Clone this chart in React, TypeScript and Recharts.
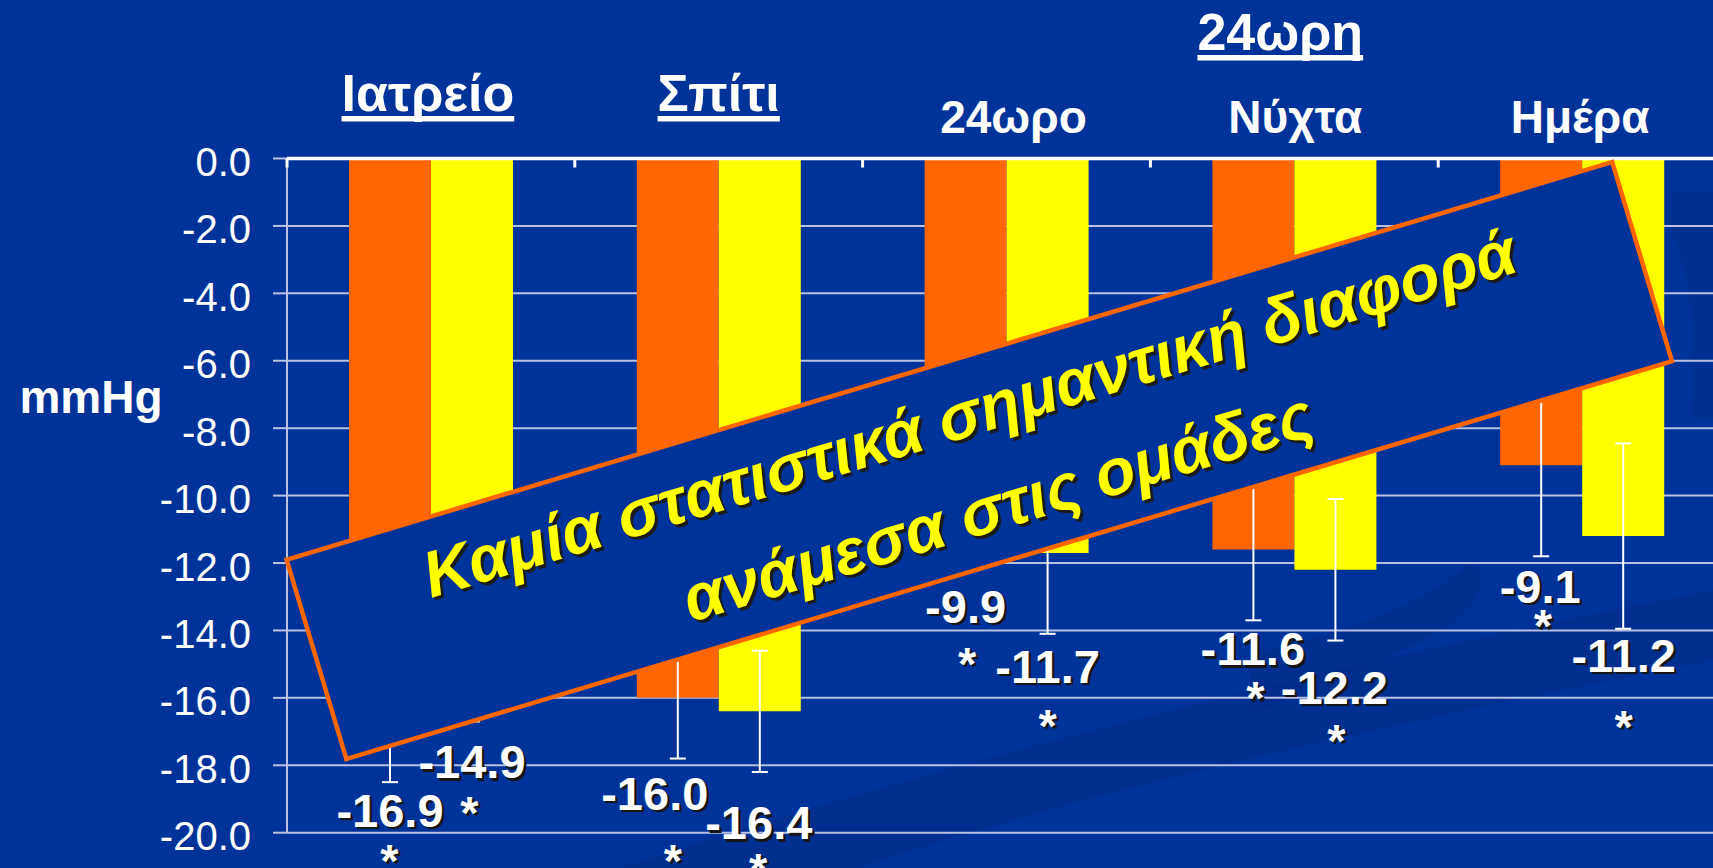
import React from "react";
import { BarChart, Bar, XAxis, YAxis, CartesianGrid, ErrorBar, LabelList } from "recharts";

// ---------- data ----------
const categories = ["Ιατρείο", "Σπίτι", "24ωρο", "Νύχτα", "Ημέρα"];
const groupTitle = "24ωρη";
const groupMembers = ["24ωρο", "Νύχτα", "Ημέρα"];
const orangeValues = [-16.9, -16.0, -9.9, -11.6, -9.1];
const yellowValues = [-14.9, -16.4, -11.7, -12.2, -11.2];
const orangeErrors = [1.6, 1.8, 2.0, 2.1, 2.7];
const yellowErrors = [1.8, 1.8, 2.4, 2.1, 2.75];
const orangeSignificance = ["*", "*", "*", "*", "*"];
const yellowSignificance = ["*", "*", "*", "*", "*"];
const yTicks = [0, -2, -4, -6, -8, -10, -12, -14, -16, -18, -20];
const yAxisTitle = "mmHg";
const bannerLines = ["Καμία στατιστικά σημαντική διαφορά", "ανάμεσα στις ομάδες"];

const data = categories.map((c, i) => ({
  category: c,
  orange: orangeValues[i],
  yellow: yellowValues[i],
  orangeErr: orangeErrors[i],
  yellowErr: yellowErrors[i],
}));

// ---------- layout / style ----------
const W = 1713;
const H = 868;
const PLOT_LEFT = 287;
const PLOT_TOP = 158.5;
const PLOT_BOTTOM = 832.7;
const BAND = 287.8;
const CHART_W = PLOT_LEFT + BAND * categories.length;
const FONT = "'Liberation Sans', Arial, Helvetica, sans-serif";
const BG = "#003399";
const ORANGE = "#FF6600";
const YELLOW = "#FFFF00";
const GRID = "#b9c1e3";

// label placement relative to the bar end (pixels)
const ORANGE_LABEL = [
  { dx: 0, dy: 98.5, sdx: -0.5, sdy: 50 },
  { dx: -23, dy: 112, sdx: -5, sdy: 67 },
  { dx: 0, dy: 130.5, sdx: 1.5, sdy: 57 },
  { dx: -0.6, dy: 115.5, sdx: 2, sdy: 49 },
  { dx: -1, dy: 137.4, sdx: 1.7, sdy: 39.5 },
];
const YELLOW_LABEL = [
  { dx: 0, dy: 117.5, sdx: -2.7, sdy: 50.7 },
  { dx: -1, dy: 128, sdx: -1.6, sdy: 46.4 },
  { dx: 0, dy: 130, sdx: 0, sdy: 59 },
  { dx: -1, dy: 134, sdx: 1, sdy: 53 },
  { dx: 0.5, dy: 135.6, sdx: 0.5, sdy: 71.3 },
];
const TITLE_DX = [-3, 0, 7, 1, -2];

let measureCtx: CanvasRenderingContext2D | null = null;
function measure(text: string, font: string): number {
  if (!measureCtx) measureCtx = document.createElement("canvas").getContext("2d");
  if (!measureCtx) return text.length * 25;
  measureCtx.font = font;
  return measureCtx.measureText(text).width;
}

function ShadowText(props: any) {
  const {
    x, y, size, children, bold = true, italic = false, anchor = "middle",
    fill = "#ffffff", shadow = "#151515", sdx = 2.5, sdy = 2.5,
  } = props;
  const common = {
    fontFamily: FONT,
    fontSize: size,
    fontWeight: bold ? 700 : 400,
    fontStyle: italic ? "italic" : "normal",
    textAnchor: anchor,
  } as any;
  return (
    <g>
      <text x={x + sdx} y={y + sdy} fill={shadow} {...common}>{children}</text>
      <text x={x} y={y} fill={fill} {...common}>{children}</text>
    </g>
  );
}

const makeLabel = (layout: any[], sig: string[]) => (props: any) => {
  const { x, y, width, height, value, index } = props;
  const yy = Number(y);
  const end = Math.max(yy, yy + Number(height));
  const cx = Number(x) + Number(width) / 2;
  const L = layout[index];
  const base = end + L.dy;
  return (
    <g>
      <ShadowText x={cx + L.dx} y={base} size={47}>{Number(value).toFixed(1)}</ShadowText>
      {sig[index] ? (
        <ShadowText x={cx + L.sdx} y={base + L.sdy} size={47}>{sig[index]}</ShadowText>
      ) : null}
    </g>
  );
};

function CategoryTick(props: any) {
  const { x, payload, index } = props;
  const cx = Number(x);
  const name = String(payload.value);
  const left = cx - BAND / 2;
  const isSub = groupMembers.includes(name);
  const tx = cx + (TITLE_DX[index] ?? 0);
  let title: React.ReactNode;
  if (isSub) {
    title = (
      <text x={tx} y={133} fill="#fff" fontFamily={FONT} fontSize={46} fontWeight={700} textAnchor="middle">
        {name}
      </text>
    );
  } else {
    const font = `700 52px ${FONT}`;
    const w = measure(name, font);
    title = (
      <g>
        <text x={tx} y={111} fill="#fff" fontFamily={FONT} fontSize={52} fontWeight={700} textAnchor="middle">
          {name}
        </text>
        <rect x={tx - w / 2} y={116} width={w} height={5.5} fill="#fff" />
      </g>
    );
  }
  return (
    <g>
      <line x1={left} y1={PLOT_TOP} x2={left} y2={PLOT_TOP + 9} stroke="#fff" strokeWidth={3} />
      {title}
    </g>
  );
}

function YTick(props: any) {
  const { y, payload } = props;
  return (
    <text x={PLOT_LEFT - 36} y={Number(y) + 17.5} fill="#fff" fontFamily={FONT} fontSize={40} textAnchor="end">
      {Number(payload.value).toFixed(1)}
    </text>
  );
}

function Overlay() {
  const groupCx = PLOT_LEFT + BAND * 3.5 - 14;
  const gFont = `700 52px ${FONT}`;
  const gw = measure(groupTitle, gFont);
  const cx = 979.3;
  const cy = 460.5;
  const angle = -16.7;
  return (
    <svg width={W} height={H} style={{ position: "absolute", left: 0, top: 0 }}>
      <text x={91} y={413} fill="#fff" fontFamily={FONT} fontSize={46} fontWeight={700} textAnchor="middle">
        {yAxisTitle}
      </text>
      <text x={groupCx} y={50} fill="#fff" fontFamily={FONT} fontSize={52} fontWeight={700} textAnchor="middle">
        {groupTitle}
      </text>
      <rect x={groupCx - gw / 2} y={55} width={gw} height={5.5} fill="#fff" />
      <g transform={`translate(${cx},${cy}) rotate(${angle})`}>
        <rect x={-692} y={-104} width={1384} height={208} fill={BG} stroke={ORANGE} strokeWidth={4.5} />
        <ShadowText x={4} y={-26} size={65} italic fill={YELLOW} shadow="#1a1a1a" sdx={2} sdy={3.7}>
          {bannerLines[0]}
        </ShadowText>
        <ShadowText x={4} y={72} size={65} italic fill={YELLOW} shadow="#1a1a1a" sdx={2} sdy={3.7}>
          {bannerLines[1]}
        </ShadowText>
      </g>
    </svg>
  );
}

function Background() {
  return (
    <svg width={W} height={H} style={{ position: "absolute", left: 0, top: 0 }}>
      <path d="M 620 868 C 950 760, 1350 660, 1713 590 L 1713 660 C 1400 720, 1050 800, 860 868 Z" fill="#002a85" opacity={0.45} />
      <path d="M 1250 655 C 1350 630, 1440 600, 1470 560 C 1500 585, 1470 625, 1380 660 C 1330 680, 1290 700, 1250 715 Z" fill="#002a85" opacity={0.45} />
      <path d="M 1655 190 C 1690 260, 1700 330, 1690 420 L 1713 420 L 1713 190 Z" fill="#002a85" opacity={0.35} />
    </svg>
  );
}

export default function App() {
  return (
    <div
      style={{
        position: "fixed",
        left: 0,
        top: 0,
        width: W,
        height: H,
        overflow: "hidden",
        background: BG,
      }}
    >
      <Background />
      <div style={{ position: "absolute", left: 0, top: 0 }}>
        <BarChart
          width={CHART_W}
          height={H}
          data={data}
          margin={{ top: 0, right: 0, bottom: H - PLOT_BOTTOM, left: 0 }}
          barGap={0}
          barSize={82}
        >
          <CartesianGrid vertical={false} stroke={GRID} strokeWidth={2} />
          <XAxis
            dataKey="category"
            orientation="top"
            height={PLOT_TOP}
            interval={0}
            tickLine={false}
            axisLine={{ stroke: "#ffffff", strokeWidth: 3.5 }}
            tick={<CategoryTick />}
          />
          <YAxis
            type="number"
            domain={[-20, 0]}
            ticks={yTicks}
            interval={0}
            width={PLOT_LEFT}
            tickSize={14}
            tickLine={{ stroke: GRID, strokeWidth: 2 }}
            axisLine={{ stroke: GRID, strokeWidth: 2 }}
            tick={<YTick />}
          />
          <Bar dataKey="orange" fill={ORANGE} isAnimationActive={false}>
            <ErrorBar dataKey="orangeErr" width={8} strokeWidth={2} stroke="#ffffff" direction="y" isAnimationActive={false} />
            <LabelList dataKey="orange" content={makeLabel(ORANGE_LABEL, orangeSignificance)} />
          </Bar>
          <Bar dataKey="yellow" fill={YELLOW} isAnimationActive={false}>
            <ErrorBar dataKey="yellowErr" width={8} strokeWidth={2} stroke="#ffffff" direction="y" isAnimationActive={false} />
            <LabelList dataKey="yellow" content={makeLabel(YELLOW_LABEL, yellowSignificance)} />
          </Bar>
        </BarChart>
      </div>
      <Overlay />
    </div>
  );
}
